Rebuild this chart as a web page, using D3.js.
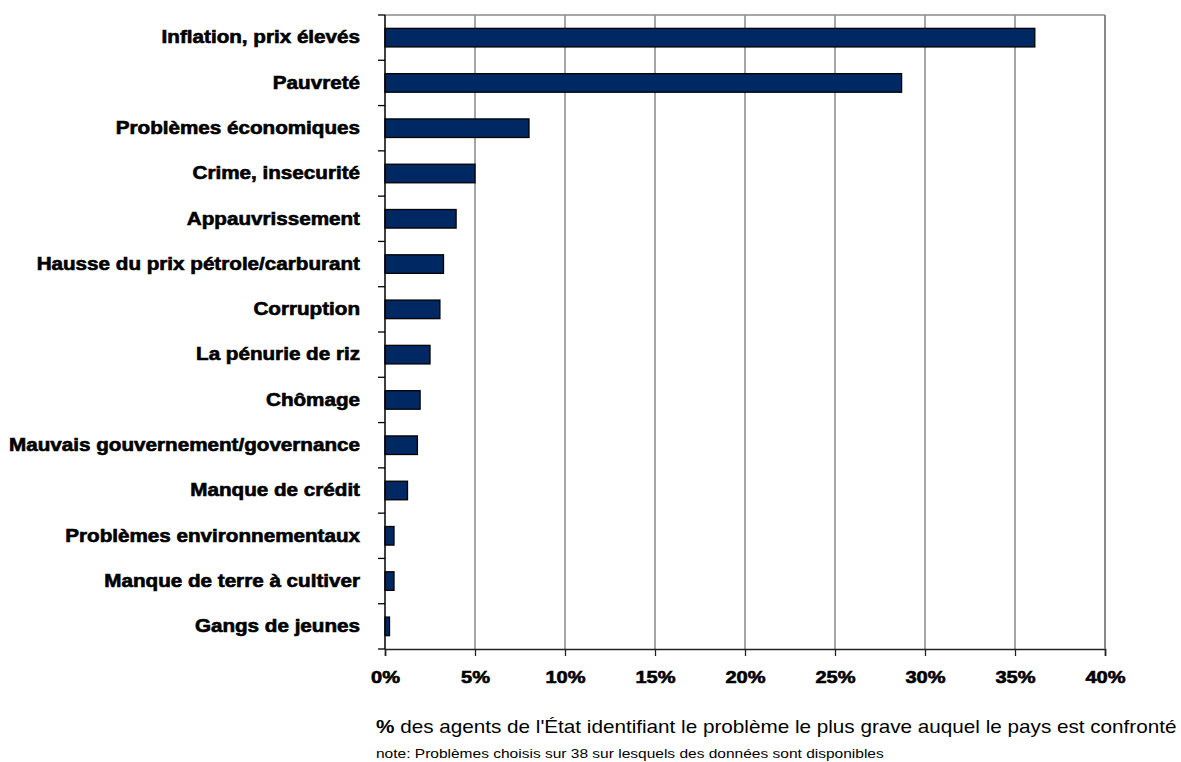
<!DOCTYPE html>
<html>
<head>
<meta charset="utf-8">
<script src="https://cdn.jsdelivr.net/npm/d3@7"></script>
<style>
  html, body { margin: 0; padding: 0; background: #fff; }
  svg { display: block; }
  text { font-family: "Liberation Sans", Arial, sans-serif; fill: #000; }
</style>
</head>
<body>
<svg id="chart" width="1181" height="762"></svg>
<script>
// Problems named by state officials, share of respondents (%)
const categories = [
  "Inflation, prix élevés",
  "Pauvreté",
  "Problèmes économiques",
  "Crime, insecurité",
  "Appauvrissement",
  "Hausse du prix pétrole/carburant",
  "Corruption",
  "La pénurie de riz",
  "Chômage",
  "Mauvais gouvernement/governance",
  "Manque de crédit",
  "Problèmes environnementaux",
  "Manque de terre à cultiver",
  "Gangs de jeunes"
];
const values = [36.1, 28.7, 8.0, 5.0, 3.95, 3.25, 3.05, 2.5, 1.95, 1.8, 1.25, 0.5, 0.5, 0.25];
const xTicks = [0, 5, 10, 15, 20, 25, 30, 35, 40];
const xTitle = "des agents de l'État identifiant le problème le plus grave auquel le pays est confronté";
const note = "note: Problèmes choisis sur 38 sur lesquels des données sont disponibles";

const svg = d3.select("#chart");
const m = { left: 385, right: 1105, top: 15, bottom: 649 };
// the typography is set wide: text is stretched horizontally
const wideBold = 1.18, wide = 1.15;

const x = d3.scaleLinear().domain([0, 40]).range([m.left, m.right]);
const y = d3.scaleBand().domain(categories).range([m.top, m.bottom]).paddingInner(0.59).paddingOuter(0.295);

// vertical gridlines
svg.append("g").selectAll("line").data(xTicks.slice(1)).join("line")
  .attr("x1", d => x(d)).attr("x2", d => x(d))
  .attr("y1", m.top).attr("y2", m.bottom)
  .attr("stroke", "#7f7f7f").attr("stroke-width", 1.4);

// top border
svg.append("line").attr("x1", m.left).attr("x2", m.right)
  .attr("y1", m.top).attr("y2", m.top)
  .attr("stroke", "#8a8a8a").attr("stroke-width", 1.4);

// bars
svg.append("g").selectAll("rect").data(categories).join("rect")
  .attr("x", x(0))
  .attr("y", d => y(d))
  .attr("width", (d, i) => x(values[i]) - x(0))
  .attr("height", y.bandwidth())
  .attr("fill", "#002862")
  .attr("stroke", "#000").attr("stroke-width", 1.3);

// left axis with ticks at category boundaries
const bounds = d3.range(categories.length + 1).map(i => m.top + i * (m.bottom - m.top) / categories.length);
svg.append("line").attr("x1", m.left).attr("x2", m.left)
  .attr("y1", m.top).attr("y2", m.bottom)
  .attr("stroke", "#000").attr("stroke-width", 1.5);
svg.append("g").selectAll("line").data(bounds).join("line")
  .attr("x1", m.left - 7).attr("x2", m.left)
  .attr("y1", d => d).attr("y2", d => d)
  .attr("stroke", "#000").attr("stroke-width", 1.3);

// category labels
svg.append("g").selectAll("text").data(categories).join("text")
  .attr("transform", d => `translate(360,${y(d) + y.bandwidth() / 2}) scale(${wideBold},1)`)
  .attr("dy", "0.33em")
  .attr("text-anchor", "end")
  .attr("font-size", 17.5)
  .attr("font-weight", "bold")
  .attr("stroke", "#000").attr("stroke-width", 0.6)
  .text(d => d);

// bottom axis
const xAxis = svg.append("g").attr("transform", `translate(0,${m.bottom})`)
  .call(d3.axisBottom(x).tickValues(xTicks).tickSize(7).tickFormat(d => d + "%"));
xAxis.select(".domain").attr("stroke", "#222").attr("stroke-width", 1.6);
xAxis.selectAll(".tick line").attr("stroke", "#222").attr("stroke-width", 1.3);
xAxis.selectAll(".tick text")
  .attr("y", 0).attr("dy", 0)
  .attr("transform", `translate(0,34) scale(${wideBold},1)`)
  .attr("font-size", 17).attr("font-weight", "bold")
  .attr("font-family", "Liberation Sans, Arial, sans-serif")
  .attr("fill", "#000")
  .attr("stroke", "#000").attr("stroke-width", 0.6);

// right border
svg.append("line").attr("x1", m.right).attr("x2", m.right)
  .attr("y1", m.top).attr("y2", m.bottom)
  .attr("stroke", "#7f7f7f").attr("stroke-width", 1.4);

// axis title and note
const title = svg.append("text")
  .attr("transform", `translate(376,733) scale(${wide},1)`)
  .attr("font-size", 18);
title.append("tspan").attr("font-weight", "bold").text("%");
title.append("tspan").text(" " + xTitle);

svg.append("text")
  .attr("transform", `translate(376,758) scale(${wide},1)`)
  .attr("font-size", 13.5).text(note);
</script>
</body>
</html>
